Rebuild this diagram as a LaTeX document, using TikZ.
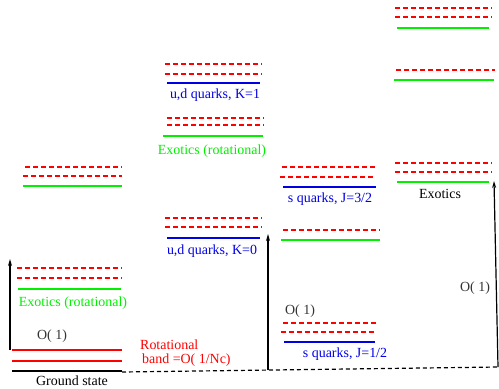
\documentclass[tikz,border=0pt]{standalone}
\usepackage{fontspec}
\setmainfont{Liberation Serif}
\usetikzlibrary{arrows.meta}
\definecolor{lvred}{RGB}{255,0,0}
\definecolor{lvgreen}{RGB}{0,240,0}
\definecolor{lvblue}{RGB}{0,0,230}
\begin{document}
\begin{tikzpicture}[x=1bp,y=-1bp,
  solidlvl/.style={line width=2bp},
  redlvl/.style={solidlvl,draw=lvred},
  greenlvl/.style={solidlvl,draw=lvgreen},
  bluelvl/.style={solidlvl,draw=lvblue},
  blacklvl/.style={solidlvl,draw=black},
  dashlvl/.style={line width=1.4bp,draw=lvred,dash pattern=on 5bp off 3bp},
  lbl/.style={font=\fontsize{14}{14.5}\selectfont,inner sep=0pt},
  gap/.style={-{Stealth[length=7bp,width=4bp]},line width=1.2bp},
  base/.style={line width=1.2bp,dash pattern=on 4bp off 3bp}]
\useasboundingbox (0,0) rectangle (499,388);

% ---- column 1: ground state and rotational band ----
\draw[blacklvl] (12,371) -- (122,371);
\draw[redlvl] (12,361) -- (122,361);
\draw[redlvl] (12,350) -- (122,350);
\draw[greenlvl] (18,289) -- (121,289);
\draw[dashlvl] (17,278) -- (122,278);
\draw[dashlvl] (17,268) -- (122,268);
\draw[greenlvl] (23,186) -- (122,186);
\draw[dashlvl] (23,176) -- (122,176);
\draw[dashlvl] (25,167) -- (122,167);
\node[lbl] (gs) at (72,381) {Ground state};
\node[lbl,lvgreen] (ex1) at (73,303) {Exotics (rotational)};
\node[lbl,black!80] (o1a) at (52,336) {O( 1)};
\node[lbl,lvred,align=left,anchor=west] (rot) at (140,353) {Rotational\\[-1pt]\hspace{2bp}band =O( 1/Nc)};
\coordinate (a1s) at (10,350);
\coordinate (a1e) at (10,259);
\draw[gap] (a1s) -- (a1e);

% ---- column 2: u,d quarks ----
\draw[dashlvl] (165,64) -- (262,64);
\draw[dashlvl] (165,74) -- (262,74);
\draw[bluelvl] (167,83) -- (260,83);
\node[lbl,lvblue] (k1) at (215,95) {u,d quarks, K=1};
\draw[dashlvl] (167,118) -- (264,118);
\draw[dashlvl] (167,125) -- (264,125);
\draw[greenlvl] (163,136) -- (263,136);
\node[lbl,lvgreen] (ex2) at (212,151) {Exotics (rotational)};
\draw[dashlvl] (165,218) -- (262,218);
\draw[dashlvl] (165,227) -- (262,227);
\draw[bluelvl] (167,238) -- (260,238);
\node[lbl,lvblue] (k0) at (212,251) {u,d quarks, K=0};
\coordinate (a2s) at (268,370);
\coordinate (a2e) at (268,234);
\draw[gap] (a2s) -- (a2e);

% ---- column 3: s quarks ----
\draw[dashlvl] (282,167) -- (378,167);
\draw[dashlvl] (280,177) -- (376,177);
\draw[bluelvl] (283,187) -- (376,187);
\node[lbl,lvblue] (j32) at (330,199) {s quarks, J=3/2};
\draw[dashlvl] (283,230) -- (380,230);
\draw[greenlvl] (281,240) -- (380,240);
\node[lbl,black!80] (o1b) at (300,311) {O( 1)};
\draw[dashlvl] (283,323) -- (378,323);
\draw[dashlvl] (281,332) -- (377,332);
\draw[bluelvl] (284,342) -- (375,342);
\node[lbl,lvblue] (j12) at (345,354) {s quarks, J=1/2};

% ---- column 4: exotics ----
\draw[dashlvl] (395,8) -- (492,8);
\draw[dashlvl] (395,17) -- (492,17);
\draw[greenlvl] (397,28) -- (489,28);
\draw[dashlvl] (396,70) -- (495,70);
\draw[greenlvl] (394,80) -- (494,80);
\draw[dashlvl] (395,163) -- (492,163);
\draw[dashlvl] (395,172) -- (492,172);
\draw[greenlvl] (397,182) -- (489,182);
\node[lbl] (ex4) at (440,194) {Exotics};
\node[lbl,black!80] (o1c) at (475,288) {O( 1)};
\coordinate (a4s) at (498,367);
\coordinate (a4e) at (494,181);
\draw[gap] (a4s) -- (a4e);

% ---- common ground-state reference ----
\coordinate (g0) at (122,372);
\draw[base] (g0) -- (a4s);
\end{tikzpicture}
\end{document}
